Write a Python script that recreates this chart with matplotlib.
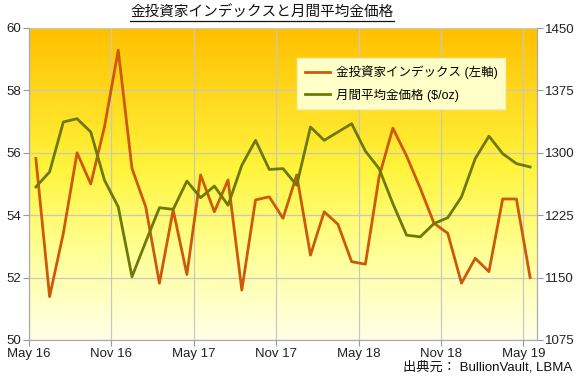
import matplotlib
matplotlib.use('Agg')
import matplotlib.pyplot as plt
import numpy as np
from matplotlib.colors import LinearSegmentedColormap
from matplotlib.lines import Line2D

plt.rcParams['font.family'] = ['Liberation Sans', 'Noto Sans CJK JP', 'DejaVu Sans']

# Monthly data, May 2016 .. May 2019
index_values = [55.82, 51.39, 53.42, 56.0, 55.0, 56.84, 59.29, 55.5, 54.27, 51.82,
                54.17, 52.1, 55.29, 54.11, 55.13, 51.6, 54.49, 54.59, 53.9, 55.29,
                52.72, 54.11, 53.71, 52.51, 52.43, 55.23, 56.79, 55.9, 54.86, 53.74,
                53.42, 51.82, 52.62, 52.19, 54.52, 54.52, 52.0]
gold_price = [1259, 1277, 1337, 1341, 1325, 1267, 1235, 1151, 1193, 1234,
              1232, 1266, 1246, 1260, 1237, 1285, 1315, 1280, 1281, 1261,
              1331, 1315, 1325, 1335, 1302, 1281, 1239, 1201, 1199, 1215,
              1222, 1247, 1293, 1320, 1299, 1287, 1283]
tick_labels = ['May 16', 'Nov 16', 'May 17', 'Nov 17', 'May 18', 'Nov 18', 'May 19']
left_ticks = [50, 52, 54, 56, 58, 60]
right_ticks = [1075, 1150, 1225, 1300, 1375, 1450]

orange = '#CC5A0A'
olive = '#6B7A08'
grid_c = '#C8C8C0'

fig = plt.figure(figsize=(5.75, 3.79), dpi=100)
ax = fig.add_axes([29 / 575, 1 - 340 / 379, 508 / 575, 312 / 379])

# background gradient
cmap = LinearSegmentedColormap.from_list('bg', [(0.0, '#FFFFEA'), (0.3, '#FFFF90'),
                                                (0.55, '#FFF43C'), (1.0, '#FFC000')])
grad = np.linspace(0, 1, 256).reshape(-1, 1)
ax.imshow(grad, aspect='auto', cmap=cmap, origin='lower',
          extent=[0, 37, 50, 60], zorder=0)

x = np.arange(len(index_values)) + 0.5
ax.plot(x, index_values, color=orange, lw=2.0, zorder=3)
ax.set_xlim(0, 37)
ax.set_ylim(50, 60)
ax.set_yticks(left_ticks)
ax.set_xticks(np.arange(0, 37, 6))
ax.set_xticklabels(tick_labels)
ax.grid(True, color=grid_c, lw=0.9, zorder=1)
ax.set_axisbelow(False)

ax2 = ax.twinx()
ax2.plot(x, gold_price, color=olive, lw=2.0, zorder=3)
ax2.set_ylim(1075, 1450)
ax2.set_yticks(right_ticks)

for a in (ax, ax2):
    a.tick_params(labelsize=9.5, colors='#222222', length=4, width=0.8,
                  color='#999999', pad=2)
    for s in a.spines.values():
        s.set_color('#AAAAAA')
        s.set_linewidth(0.8)
ax.spines['top'].set_visible(False)
ax2.spines['top'].set_visible(False)

handles = [Line2D([], [], color=orange, lw=2.0), Line2D([], [], color=olive, lw=2.0)]
leg = ax2.legend(handles, ['金投資家インデックス (左軸)', '月間平均金価格 ($/oz)'],
                 loc='upper left', bbox_to_anchor=((297 - 29) / 508, 1 - 30 / 312),
                 borderaxespad=0, fontsize=9, frameon=True, fancybox=False,
                 handlelength=2.0, borderpad=0.6, labelspacing=0.75,
                 handletextpad=0.5)
leg.get_frame().set_facecolor('#FFFFC8')
leg.get_frame().set_edgecolor('#F0F0C0')
leg.get_frame().set_alpha(1)

title = fig.text(262 / 575, 1 - 13 / 379, '金投資家インデックスと月間平均金価格',
                 ha='center', va='center', fontsize=10.5, color='#111111')
fig.text(572 / 575, 1 - 367 / 379, '出典元： BullionVault, LBMA',
         ha='right', va='center', fontsize=9.5, color='#111111')

# underline the title
fig.canvas.draw()
bb = title.get_window_extent().transformed(fig.transFigure.inverted())
fig.add_artist(Line2D([bb.x0, bb.x1], [bb.y0 - 0.002, bb.y0 - 0.002],
                      transform=fig.transFigure, color='#111111', lw=0.9))

fig.savefig('out.png', dpi=100)
